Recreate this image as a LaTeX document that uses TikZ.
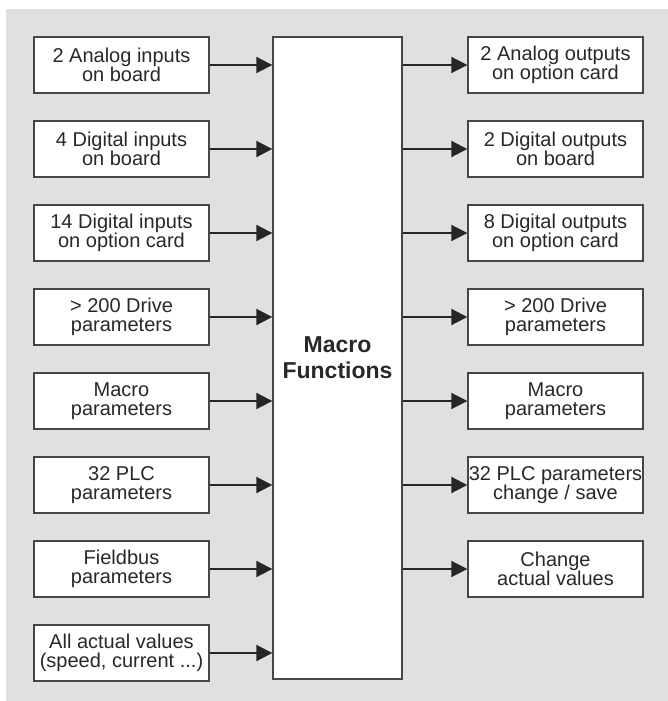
\documentclass[tikz,border=0pt]{standalone}
\usepackage{fontspec}
\setmainfont{Liberation Sans}
\usepackage{tikz}
\usetikzlibrary{arrows.meta,positioning,calc}
\definecolor{panelgray}{RGB}{224, 224, 224}
\definecolor{boxedge}{RGB}{70, 70, 70}
\definecolor{textdark}{RGB}{40, 40, 40}

\tikzset{
    iobox/.style={draw=boxedge,line width=1.4pt,fill=white,text=textdark,align=center,
        minimum width=175pt,minimum height=56pt,inner sep=0pt,
        font=\fontsize{20}{19}\selectfont},
    flow/.style={line width=2pt,color=black!85,-{Triangle[length=16pt,width=16pt]}}
}

\begin{document}
\begin{tikzpicture}[x=1pt,y=-1pt]
    \useasboundingbox (0,0) rectangle (668,701);
    \fill[panelgray] (6,9) rectangle (668,701);
    % central block
    \node[draw=boxedge,line width=1.4pt,fill=white,minimum width=129pt,minimum height=642pt,
        inner sep=0pt,align=center,text=textdark,font=\fontsize{23}{26}\selectfont\bfseries]
        (macro) at (337.5,358) {Macro\\Functions};
    % inputs
    \foreach \i/\txt in {1/{2 Analog inputs\\on board},2/{4 Digital inputs\\on board},
        3/{14 Digital inputs\\on option card},4/{> 200 Drive\\parameters},
        5/{Macro\\parameters},6/{32 PLC\\parameters},7/{Fieldbus\\parameters},
        8/{All actual values\\(speed, current ...)}} {
        \node[iobox] (in\i) at (121.5,{65+84*(\i-1)}) {\txt};
        \draw[flow] (in\i.east) -- (in\i.east -| macro.west);
    }
    % outputs
    \foreach \i/\txt in {1/{2 Analog outputs\\on option card},2/{2 Digital outputs\\on board},
        3/{8 Digital outputs\\on option card},4/{> 200 Drive\\parameters},
        5/{Macro\\parameters},6/{32 PLC parameters\\change / save},
        7/{Change\\actual values}} {
        \node[iobox] (out\i) at (555.5,{65+84*(\i-1)}) {\txt};
        \draw[flow] (out\i.west -| macro.east) -- (out\i.west);
    }
\end{tikzpicture}
\end{document}
